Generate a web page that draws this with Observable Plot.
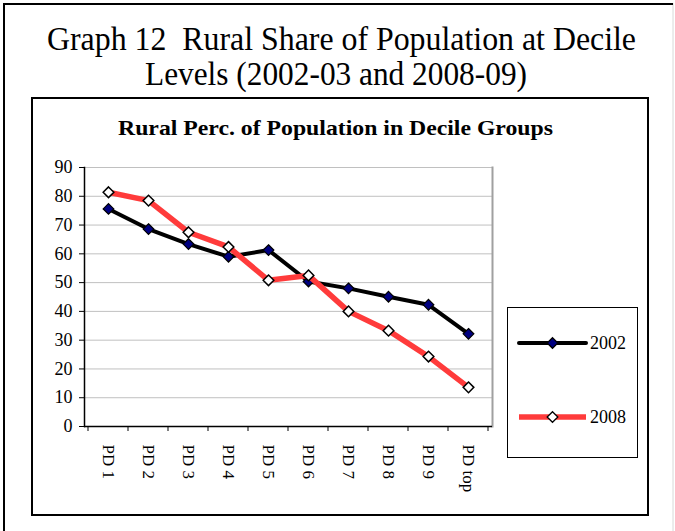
<!DOCTYPE html>
<html>
<head>
<meta charset="utf-8">
<script src="https://cdn.jsdelivr.net/npm/d3@7"></script>
<script src="https://cdn.jsdelivr.net/npm/@observablehq/plot@0.6"></script>
<style>
  html, body { margin: 0; padding: 0; background: #fff; }
  #chart { width: 675px; height: 531px; }
</style>
</head>
<body>
<div id="chart"></div>
<script>
// ---- data ----
const categories = ["PD 1", "PD 2", "PD 3", "PD 4", "PD 5", "PD 6", "PD 7", "PD 8", "PD 9", "PD top"];
const series = ["2002", "2008"];
const values2002 = [75.6, 68.6, 63.4, 59.0, 61.3, 50.4, 48.0, 45.1, 42.3, 32.2];
const values2008 = [81.4, 78.5, 67.5, 62.4, 50.8, 52.5, 40.0, 33.3, 24.3, 13.6];
const yTicks = [0, 10, 20, 30, 40, 50, 60, 70, 80, 90];
const pageTitle = ["Graph 12\u00a0\u00a0Rural Share of Population at Decile", "Levels (2002-03 and 2008-09)"];
const chartTitle = "Rural Perc. of Population in Decile Groups";

const rows2002 = categories.map((c, i) => ({cat: c, v: values2002[i], s: series[0]}));
const rows2008 = categories.map((c, i) => ({cat: c, v: values2008[i], s: series[1]}));

const serif = "'Liberation Serif', 'Times New Roman', serif";
const red = "#ff3b3b";
const navy = "#000080";

const plot = Plot.plot({
  width: 675,
  height: 531,
  marginLeft: 84,
  marginRight: 183,
  marginTop: 167,
  marginBottom: 105,
  style: {fontFamily: serif, fontSize: "17px", color: "#000", background: "#fff"},
  x: {type: "band", domain: categories, padding: 0},
  y: {domain: [0, 90]},
  marks: [
    Plot.gridY(yTicks, {stroke: "#c0c0c0", strokeOpacity: 1, strokeWidth: 1}),
    Plot.frame({anchor: "right", stroke: "#a0a0a0", strokeWidth: 2}),
    Plot.axisY(yTicks, {tickSize: 5, tickPadding: 7, label: null, fontSize: 18, tickFormat: d => d}),
    Plot.axisX({tickSize: 0, tickPadding: 18, tickRotate: 90, fontSize: 17, label: null}),
    Plot.frame({anchor: "left", stroke: "#000", strokeWidth: 1.5}),
    Plot.ruleY([0], {stroke: "#000", strokeWidth: 1.5}),
    Plot.line(rows2002, {x: "cat", y: "v", stroke: "#000", strokeWidth: 4}),
    Plot.dot(rows2002, {x: "cat", y: "v", symbol: "diamond2", r: 4.8, fill: navy, stroke: "#000", strokeWidth: 1.2}),
    Plot.line(rows2008, {x: "cat", y: "v", stroke: red, strokeWidth: 5.5}),
    Plot.dot(rows2008, {x: "cat", y: "v", symbol: "diamond2", r: 4.8, fill: "#fff", stroke: "#000", strokeWidth: 1.5})
  ]
});

document.getElementById("chart").appendChild(plot);

const svg = d3.select(plot);
const xs = plot.scale("x");
const ys = plot.scale("y");
const bw = xs.bandwidth;
const y0 = ys.apply(0);

// category boundary ticks
const bounds = categories.map(c => xs.apply(c)).concat([xs.apply(categories[categories.length - 1]) + bw]);
svg.append("g").selectAll("line").data(bounds).join("line")
  .attr("x1", d => d).attr("x2", d => d)
  .attr("y1", y0).attr("y2", y0 + 5)
  .attr("stroke", "#000").attr("stroke-width", 1);

// frames
svg.insert("line", ":first-child").attr("x1", 4).attr("y1", 3).attr("x2", 4).attr("y2", 531).attr("stroke", "#000").attr("stroke-width", 2);
svg.insert("line", ":first-child").attr("x1", 3).attr("y1", 4).attr("x2", 673).attr("y2", 4).attr("stroke", "#000").attr("stroke-width", 2);
svg.insert("line", ":first-child").attr("x1", 673).attr("y1", 3).attr("x2", 673).attr("y2", 531).attr("stroke", "#d8d8d8").attr("stroke-width", 1);
svg.append("rect").attr("x", 32).attr("y", 98).attr("width", 616).attr("height", 417)
  .attr("fill", "none").attr("stroke", "#000").attr("stroke-width", 2);

// titles
svg.append("text").attr("x", 47).attr("y", 50).attr("text-anchor", "start")
  .attr("textLength", 589).attr("lengthAdjust", "spacingAndGlyphs")
  .attr("font-family", serif).attr("font-size", 33).attr("fill", "#000").text(pageTitle[0]);
svg.append("text").attr("x", 145).attr("y", 85).attr("text-anchor", "start")
  .attr("textLength", 382).attr("lengthAdjust", "spacingAndGlyphs")
  .attr("font-family", serif).attr("font-size", 33).attr("fill", "#000").text(pageTitle[1]);
svg.append("text").attr("x", 118).attr("y", 135).attr("text-anchor", "start")
  .attr("textLength", 435).attr("lengthAdjust", "spacingAndGlyphs")
  .attr("font-family", serif).attr("font-size", 21).attr("font-weight", "bold").attr("fill", "#000").text(chartTitle);

// legend
const lg = svg.append("g");
lg.append("rect").attr("x", 507.5).attr("y", 307.5).attr("width", 130).attr("height", 150)
  .attr("fill", "#fff").attr("stroke", "#000").attr("stroke-width", 1);
const legendItems = [
  {label: series[0], stroke: "#000", sw: 4, fill: navy, cap: "round", y: 343},
  {label: series[1], stroke: red, sw: 5.5, fill: "#fff", cap: "butt", y: 417}
];
const sym = d3.symbol(d3.symbolDiamond2, Math.PI * 4.8 * 4.8);
legendItems.forEach(it => {
  lg.append("line").attr("x1", 519).attr("x2", 586).attr("y1", it.y).attr("y2", it.y)
    .attr("stroke", it.stroke).attr("stroke-width", it.sw).attr("stroke-linecap", it.cap);
  lg.append("path").attr("d", sym()).attr("transform", `translate(552.5,${it.y})`)
    .attr("fill", it.fill).attr("stroke", "#000").attr("stroke-width", 1.3);
  lg.append("text").attr("x", 590).attr("y", it.y + 6).attr("text-anchor", "start")
    .attr("font-family", serif).attr("font-size", 18).attr("fill", "#000").text(it.label);
});
</script>
</body>
</html>
